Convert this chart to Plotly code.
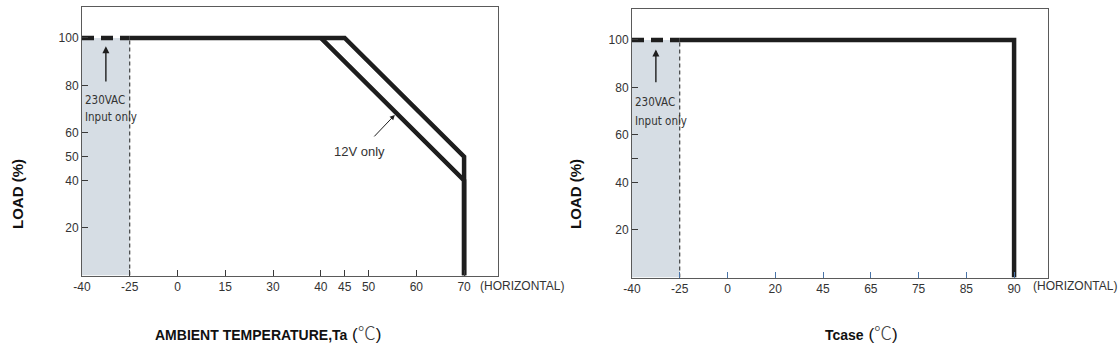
import numpy as np
import plotly.graph_objects as go

# ---- data -------------------------------------------------------------
# Ambient derating (left): evenly spaced major ticks, 45 sits between 40 and 50
amb_major = [-40, -25, 0, 15, 30, 40, 50, 60, 70]
amb_ticks = [-40, -25, 0, 15, 30, 40, 45, 50, 60, 70]
amb_full_t = [-25, 45, 70, 70]          # standard model
amb_full_load = [100, 100, 50, 0]
amb_12v_t = [40, 70, 70]                # 12V only
amb_12v_load = [100, 40, 0]
low_t = [-40, -25]                      # 230VAC input only region
low_load = [100, 100]

# Case temperature derating (right)
case_major = [-40, -25, 0, 20, 45, 65, 75, 85, 90]
case_ticks = case_major
case_t = [-25, 90, 90]
case_load = [100, 100, 0]

load_ticks_left = [20, 40, 50, 60, 80, 100]
load_text_left = ["20", "40", "50", "60", "80", "100"]
load_ticks_right = [20, 40, 50, 60, 80, 100]
load_text_right = ["20", "40", "", "60", "80", "100"]
frame_ticks = [20, 40, 60, 80, 100]

# ---- style ------------------------------------------------------------
INK = "#1e1e1e"
FRAME = "#5a5a5a"
TXT = "#333333"
SHADE = "#d6dde4"
BLUE = "#4a74a8"
FONT = "Liberation Sans"
NARROW = "DejaVu Sans Condensed, Liberation Sans"
X_MAX = 8.71
Y_MAX = 113


def amb_pos(t):
    return np.interp(t, amb_major, np.arange(len(amb_major)))


def case_pos(t):
    return np.interp(t, case_major, np.arange(len(case_major)))


fig = go.Figure()

# --- left chart ---
fig.add_trace(go.Scatter(
    x=list(amb_pos([low_t[0], low_t[1], low_t[1], low_t[0]])),
    y=[0, 0, low_load[1], low_load[0]], fill="toself", fillcolor=SHADE,
    line=dict(width=0), mode="lines", xaxis="x", yaxis="y", hoverinfo="skip"))
fig.add_trace(go.Scatter(
    x=list(amb_pos([low_t[1], low_t[1]])), y=[0, low_load[1]], mode="lines",
    line=dict(color=INK, width=1, dash="4px,3px"), xaxis="x", yaxis="y"))
fig.add_trace(go.Scatter(
    x=list(amb_pos(low_t)), y=low_load, mode="lines",
    line=dict(color=INK, width=4.5, dash="12px,7px"), xaxis="x", yaxis="y"))
fig.add_trace(go.Scatter(
    x=list(amb_pos(amb_full_t)), y=amb_full_load, mode="lines",
    line=dict(color=INK, width=4.5), xaxis="x", yaxis="y"))
fig.add_trace(go.Scatter(
    x=list(amb_pos(amb_12v_t)), y=amb_12v_load, mode="lines",
    line=dict(color=INK, width=4.5), xaxis="x", yaxis="y"))

# --- right chart ---
fig.add_trace(go.Scatter(
    x=list(case_pos([low_t[0], low_t[1], low_t[1], low_t[0]])),
    y=[0, 0, low_load[1], low_load[0]], fill="toself", fillcolor=SHADE,
    line=dict(width=0), mode="lines", xaxis="x2", yaxis="y2", hoverinfo="skip"))
fig.add_trace(go.Scatter(
    x=list(case_pos([low_t[1], low_t[1]])), y=[0, low_load[1]], mode="lines",
    line=dict(color=INK, width=1, dash="4px,3px"), xaxis="x2", yaxis="y2"))
fig.add_trace(go.Scatter(
    x=list(case_pos(low_t)), y=low_load, mode="lines",
    line=dict(color=INK, width=4.5, dash="12px,7px"), xaxis="x2", yaxis="y2"))
fig.add_trace(go.Scatter(
    x=list(case_pos(case_t)), y=case_load, mode="lines",
    line=dict(color=INK, width=4.5), xaxis="x2", yaxis="y2"))

tickfont = dict(family=FONT, size=12, color=TXT)


def xaxis(domain, ticks, posfn, tickcolor):
    return dict(domain=domain, range=[0, X_MAX], tickmode="array",
                tickvals=list(posfn(ticks)), ticktext=[str(t) for t in ticks],
                ticks="inside", ticklen=6, tickcolor=tickcolor, tickwidth=1,
                showline=True, linecolor=FRAME, linewidth=1, mirror=True,
                showgrid=False, zeroline=False, tickfont=tickfont,
                automargin=False, fixedrange=True)


def yaxis(domain, anchor, vals, text):
    return dict(domain=domain, anchor=anchor, range=[0, Y_MAX], tickmode="array",
                tickvals=vals, ticktext=text, ticks="inside", ticklen=6,
                tickcolor="#3a3a3a", tickwidth=1, showline=True, linecolor=FRAME,
                linewidth=1, mirror=True, showgrid=False, zeroline=False,
                tickfont=tickfont, automargin=False, fixedrange=True)


def frame_y(overlay, anchor, color):
    return dict(overlaying=overlay, anchor=anchor, side="right", range=[0, Y_MAX],
                tickmode="array", tickvals=frame_ticks, ticks="inside", ticklen=6,
                tickcolor=color, tickwidth=1, showticklabels=False, showline=False,
                showgrid=False, zeroline=False, automargin=False, fixedrange=True)


left_x = [82 / 1120, 498 / 1120]
right_x = [632 / 1120, 1048 / 1120]
left_y = [(349 - 275.5) / 349, (349 - 7) / 349]
right_y = [(349 - 277.5) / 349, (349 - 9) / 349]

fig.update_layout(
    width=1120, height=349,
    margin=dict(l=0, r=0, t=0, b=0, pad=0, autoexpand=False),
    paper_bgcolor="white", plot_bgcolor="white", showlegend=False,
    xaxis=dict(**xaxis(left_x, amb_ticks, amb_pos, "#3a3a3a"), anchor="y"),
    yaxis=yaxis(left_y, "x", load_ticks_left, load_text_left),
    yaxis3=frame_y("y", "x", "#3a3a3a"),
    xaxis2=dict(**xaxis(right_x, case_ticks, case_pos, BLUE), anchor="y2"),
    yaxis2=yaxis(right_y, "x2", load_ticks_right, load_text_right),
    yaxis4=frame_y("y2", "x2", BLUE),
)

note_font = dict(family=NARROW, size=11.5, color=TXT)
anns = []
for xr, yr, posfn, y1, y2, ya, yb in [("x", "y", amb_pos, 74, 66.5, 81, 96.5),
                                      ("x2", "y2", case_pos, 74, 66, 81.5, 96)]:
    ax_pos = float(posfn(-32.5))
    anns.append(dict(x=ax_pos, y=yb, ax=ax_pos, ay=ya, xref=xr, yref=yr,
                     axref=xr, ayref=yr, showarrow=True, arrowhead=2,
                     arrowsize=1, arrowwidth=1.4, arrowcolor=INK, text=""))
    anns.append(dict(x=float(posfn(-39.7)), y=y1, xref=xr, yref=yr, text="230VAC",
                     showarrow=False, xanchor="left", yanchor="middle", font=note_font))
    anns.append(dict(x=float(posfn(-39.7)), y=y2, xref=xr, yref=yr, text="Input only",
                     showarrow=False, xanchor="left", yanchor="middle", font=note_font))

# 12V only callout
anns.append(dict(x=float(amb_pos(55.5)), y=67.6, ax=float(amb_pos(50.9)), ay=57.9,
                 xref="x", yref="y", axref="x", ayref="y", showarrow=True,
                 arrowhead=2, arrowsize=1, arrowwidth=1, arrowcolor=INK, text=""))
anns.append(dict(x=float(amb_pos(48)), y=52, xref="x", yref="y", text="12V only",
                 showarrow=False, xanchor="center", yanchor="middle",
                 font=dict(family=FONT, size=13, color=TXT)))

# axis titles
title_font = dict(family=FONT, size=15, color="#111111")
for xp in [17, 575]:
    anns.append(dict(x=xp / 1120, y=1 - 194 / 349, xref="paper", yref="paper",
                     text="<b>LOAD (%)</b>", textangle=-90, showarrow=False,
                     xanchor="center", yanchor="middle", font=title_font))

unit = ("<span style='font-size:17px'> (</span>"
        "<span style='font-family:Noto Sans CJK SC;font-weight:300;"
        "font-size:18px;color:#444'>℃</span>"
        "<span style='font-size:17px'>)</span>")
anns.append(dict(x=268 / 1120, y=1 - 332 / 349, xref="paper", yref="paper",
                 text="<b>AMBIENT TEMPERATURE,Ta</b>" + unit, showarrow=False,
                 xanchor="center", yanchor="middle",
                 font=dict(family=FONT, size=14, color="#111111")))
anns.append(dict(x=861 / 1120, y=1 - 332 / 349, xref="paper", yref="paper",
                 text="<b>Tcase</b>" + unit, showarrow=False,
                 xanchor="center", yanchor="middle",
                 font=dict(family=FONT, size=14, color="#111111")))
for xp in [478, 1031]:
    anns.append(dict(x=xp / 1120, y=1 - 286 / 349, xref="paper", yref="paper",
                     text="(HORIZONTAL)", showarrow=False, xanchor="left",
                     yanchor="middle", font=tickfont))

fig.update_layout(annotations=anns)
fig.write_html("out.html")
